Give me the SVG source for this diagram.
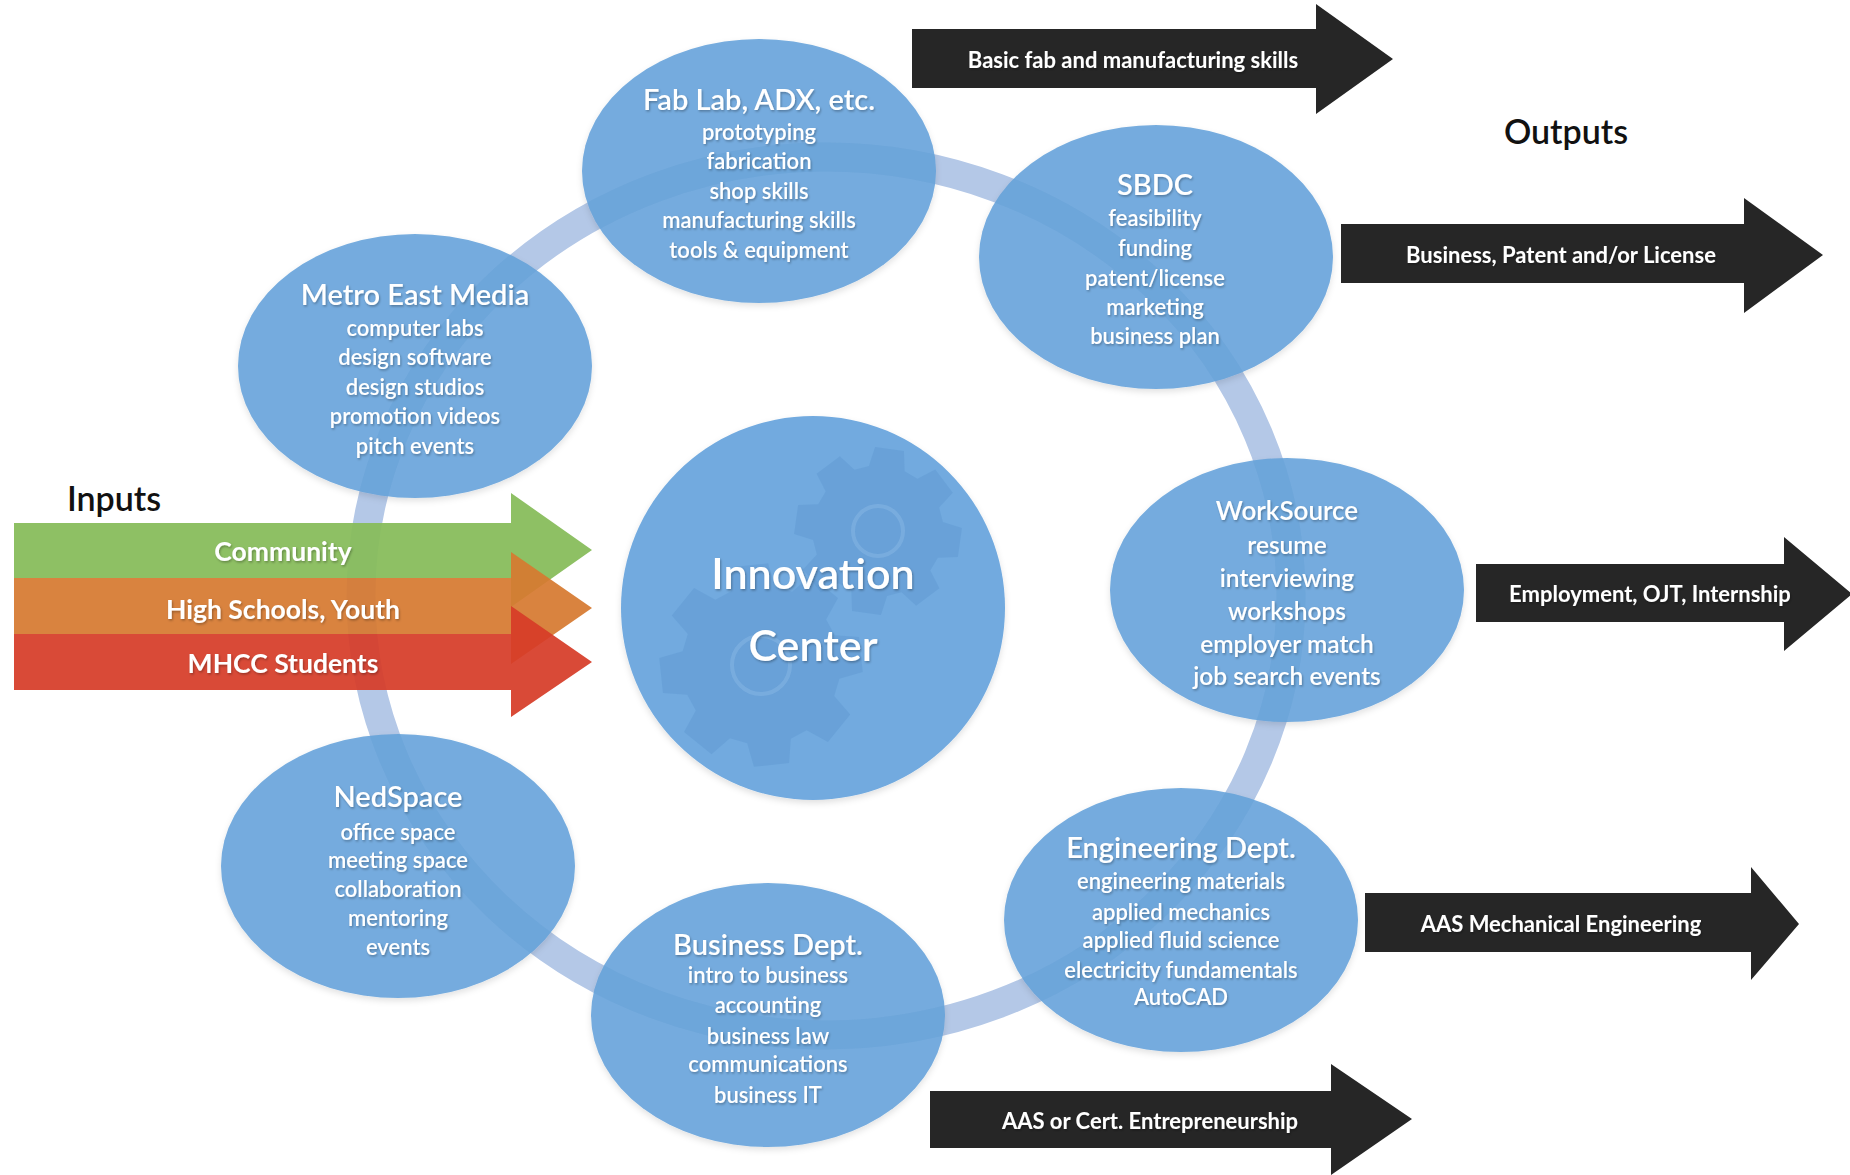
<svg xmlns="http://www.w3.org/2000/svg" xmlns:xlink="http://www.w3.org/1999/xlink" width="1850" height="1175" viewBox="0 0 1850 1175">
<style>
.node{fill:#6fa8dc;fill-opacity:0.95;filter:url(#sh)}
.ttl{font-family:Lato,"Open Sans","Liberation Sans",sans-serif;font-size:29px;font-weight:600;fill:#fff;text-anchor:middle;dominant-baseline:central;filter:url(#ts)}
.ln{font-family:Lato,"Open Sans","Liberation Sans",sans-serif;font-size:22px;font-weight:600;fill:#fff;text-anchor:middle;dominant-baseline:central;filter:url(#ts)}
.out{fill:#262626}
.outt{font-family:Lato,"Open Sans","Liberation Sans",sans-serif;font-size:22px;font-weight:bold;fill:#fff;text-anchor:middle;dominant-baseline:central;filter:url(#ts)}
.int{font-family:Lato,"Open Sans","Liberation Sans",sans-serif;font-size:26.5px;font-weight:bold;fill:#fff;text-anchor:middle;dominant-baseline:central;filter:url(#ts)}
.hdr{font-family:Lato,"Open Sans","Liberation Sans",sans-serif;font-size:34px;font-weight:600;fill:#111;text-anchor:middle;dominant-baseline:central}
.gear{fill:#5a94cc;fill-opacity:0.36}
.hole{fill:none;stroke:#8bbbe6;stroke-width:4;stroke-opacity:0.45}
</style>
<defs>
<filter id="ts" x="-10%" y="-30%" width="120%" height="160%">
<feDropShadow dx="1" dy="1.5" stdDeviation="1" flood-color="#000" flood-opacity="0.3"/>
</filter>
<filter id="sh" x="-10%" y="-10%" width="120%" height="125%">
<feDropShadow dx="0" dy="3" stdDeviation="3" flood-color="#000" flood-opacity="0.12"/>
</filter>
<clipPath id="nodesClip">
<ellipse cx="415" cy="366" rx="177" ry="132"/>
<ellipse cx="759" cy="171" rx="177" ry="132"/>
<ellipse cx="1156" cy="257" rx="177" ry="132"/>
<ellipse cx="1287" cy="590" rx="177" ry="132"/>
<ellipse cx="1181" cy="920" rx="177" ry="132"/>
<ellipse cx="768" cy="1015" rx="177" ry="132"/>
<ellipse cx="398" cy="866" rx="177" ry="132"/>
</clipPath>
<polygon id="gearShape" points="-0.215,-0.750 -0.1736,-0.9848 0.1736,-0.9848 0.215,-0.750 0.378,-0.682 0.5736,-0.8192 0.8192,-0.5736 0.682,-0.378 0.750,-0.215 0.9848,-0.1736 0.9848,0.1736 0.750,0.215 0.682,0.378 0.8192,0.5736 0.5736,0.8192 0.378,0.682 0.215,0.750 0.1736,0.9848 -0.1736,0.9848 -0.215,0.750 -0.378,0.682 -0.5736,0.8192 -0.8192,0.5736 -0.682,0.378 -0.750,0.215 -0.9848,0.1736 -0.9848,-0.1736 -0.750,-0.215 -0.682,-0.378 -0.8192,-0.5736 -0.5736,-0.8192 -0.378,-0.682"/>
</defs>
<rect width="1850" height="1175" fill="#fff"/>

<g id="connectors">
<ellipse cx="826" cy="596" rx="465" ry="439" fill="none" stroke="#b4c8e7" stroke-width="29"/>
</g>

<g id="metro-east-media">
<ellipse class="node" cx="415" cy="366" rx="177" ry="132"/>
</g>
<g id="fab-lab">
<ellipse class="node" cx="759" cy="171" rx="177" ry="132"/>
</g>
<g id="sbdc">
<ellipse class="node" cx="1156" cy="257" rx="177" ry="132"/>
</g>
<g id="worksource">
<ellipse class="node" cx="1287" cy="590" rx="177" ry="132"/>
</g>
<g id="engineering-dept">
<ellipse class="node" cx="1181" cy="920" rx="177" ry="132"/>
</g>
<g id="business-dept">
<ellipse class="node" cx="768" cy="1015" rx="177" ry="132"/>
</g>
<g id="nedspace">
<ellipse class="node" cx="398" cy="866" rx="177" ry="132"/>
</g>

<g id="ring-reflection" clip-path="url(#nodesClip)">
<ellipse cx="826" cy="596" rx="465" ry="439" fill="none" stroke="#3f7dbd" stroke-opacity="0.07" stroke-width="29"/>
</g>

<g id="node-labels">
<text class="ttl" x="415" y="293">Metro East Media</text>
<text class="ln" x="415" y="327">computer labs</text>
<text class="ln" x="415" y="356">design software</text>
<text class="ln" x="415" y="386">design studios</text>
<text class="ln" x="415" y="415">promotion videos</text>
<text class="ln" x="415" y="445">pitch events</text>

<text class="ttl" x="759" y="98">Fab Lab, ADX, etc.</text>
<text class="ln" x="759" y="131">prototyping</text>
<text class="ln" x="759" y="160">fabrication</text>
<text class="ln" x="759" y="190">shop skills</text>
<text class="ln" x="759" y="219">manufacturing skills</text>
<text class="ln" x="759" y="249">tools &amp; equipment</text>

<text class="ttl" x="1155" y="183">SBDC</text>
<text class="ln" x="1155" y="217">feasibility</text>
<text class="ln" x="1155" y="247">funding</text>
<text class="ln" x="1155" y="277">patent/license</text>
<text class="ln" x="1155" y="306">marketing</text>
<text class="ln" x="1155" y="335">business plan</text>

<text class="ttl" x="1287" y="510" style="font-size:26px">WorkSource</text>
<text class="ln" x="1287" y="544" style="font-size:24.5px">resume</text>
<text class="ln" x="1287" y="577" style="font-size:24.5px">interviewing</text>
<text class="ln" x="1287" y="610" style="font-size:24.5px">workshops</text>
<text class="ln" x="1287" y="643" style="font-size:24.5px">employer match</text>
<text class="ln" x="1287" y="675" style="font-size:24.5px">job search events</text>

<text class="ttl" x="1181" y="846">Engineering Dept.</text>
<text class="ln" x="1181" y="880">engineering materials</text>
<text class="ln" x="1181" y="911">applied mechanics</text>
<text class="ln" x="1181" y="939">applied fluid science</text>
<text class="ln" x="1181" y="969">electricity fundamentals</text>
<text class="ln" x="1181" y="996">AutoCAD</text>

<text class="ttl" x="768" y="943">Business Dept.</text>
<text class="ln" x="768" y="974">intro to business</text>
<text class="ln" x="768" y="1004">accounting</text>
<text class="ln" x="768" y="1035">business law</text>
<text class="ln" x="768" y="1063">communications</text>
<text class="ln" x="768" y="1094">business IT</text>

<text class="ttl" x="398" y="795">NedSpace</text>
<text class="ln" x="398" y="831">office space</text>
<text class="ln" x="398" y="859">meeting space</text>
<text class="ln" x="398" y="888">collaboration</text>
<text class="ln" x="398" y="917">mentoring</text>
<text class="ln" x="398" y="946">events</text>
</g>

<g id="innovation-center">
<circle cx="813" cy="608" r="192" fill="#72aadf" style="filter:url(#sh)"/>
<use xlink:href="#gearShape" href="#gearShape" class="gear" transform="translate(878,531) scale(84) rotate(8)"/>
<circle class="hole" cx="878" cy="531" r="25"/>
<use xlink:href="#gearShape" href="#gearShape" class="gear" transform="translate(761,665) scale(102) rotate(-6)"/>
<circle class="hole" cx="761" cy="665" r="29"/>
<text x="813" y="572" style="font-family:Lato,'Open Sans','Liberation Sans',sans-serif;font-size:43px;font-weight:600;fill:#fff;text-anchor:middle;dominant-baseline:central;filter:url(#ts)">Innovation</text>
<text x="813" y="644" style="font-family:Lato,'Open Sans','Liberation Sans',sans-serif;font-size:43px;font-weight:600;fill:#fff;text-anchor:middle;dominant-baseline:central;filter:url(#ts)">Center</text>
</g>

<g id="inputs">
<text class="hdr" x="114" y="497">Inputs</text>
<polygon points="14,523 511,523 511,493 592,550 511,607 511,578 14,578" fill="#88bd5c" fill-opacity="0.95"/>
<polygon points="14,578 511,578 511,552 592,608 511,664 511,634 14,634" fill="#d67a30" fill-opacity="0.93"/>
<polygon points="14,634 511,634 511,606 592,662 511,717 511,690 14,690" fill="#d63c28" fill-opacity="0.93"/>
<text class="int" x="283" y="551">Community</text>
<text class="int" x="283" y="609">High Schools, Youth</text>
<text class="int" x="283" y="663">MHCC Students</text>
</g>

<g id="outputs">
<text class="hdr" x="1566" y="130">Outputs</text>
<g id="out-basic-fab">
<polygon class="out" points="912,29 1316,29 1316,4 1393,59 1316,114 1316,88 912,88"/>
<text class="outt" x="1133" y="59">Basic fab and manufacturing skills</text>
</g>
<g id="out-business">
<polygon class="out" points="1341,224 1744,224 1744,198 1823,255 1744,313 1744,283 1341,283"/>
<text class="outt" x="1561" y="254">Business, Patent and/or License</text>
</g>
<g id="out-employment">
<polygon class="out" points="1476,564 1784,564 1784,537 1852,594 1784,651 1784,622 1476,622"/>
<text class="outt" x="1650" y="593">Employment, OJT, Internship</text>
</g>
<g id="out-aas-mech">
<polygon class="out" points="1365,893 1751,893 1751,867 1799,924 1751,980 1751,952 1365,952"/>
<text class="outt" x="1561" y="923">AAS Mechanical Engineering</text>
</g>
<g id="out-aas-cert">
<polygon class="out" points="930,1091 1331,1091 1331,1064 1412,1119 1331,1175 1331,1148 930,1148"/>
<text class="outt" x="1150" y="1120">AAS or Cert. Entrepreneurship</text>
</g>
</g>
</svg>
